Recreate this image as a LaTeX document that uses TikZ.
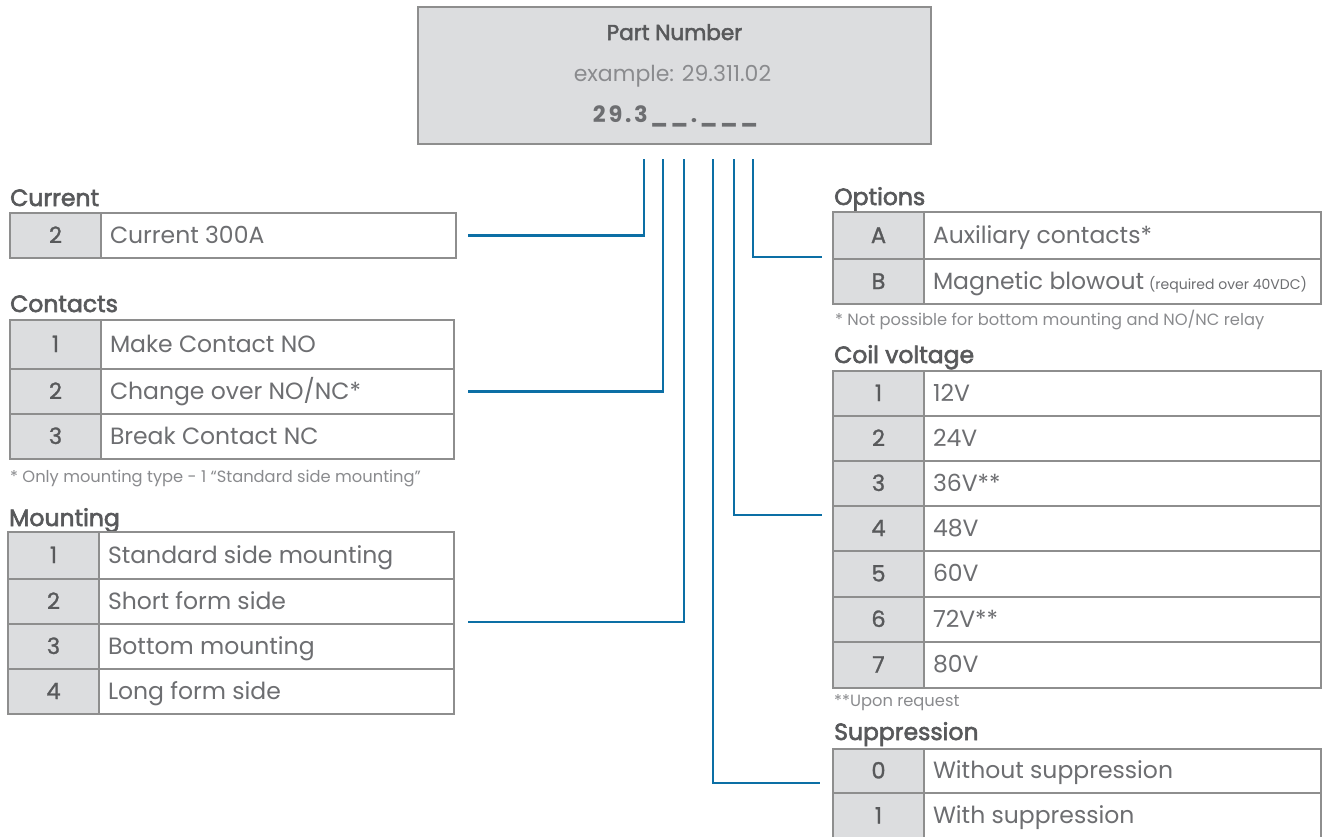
\documentclass[tikz,border=0pt]{standalone}
\usepackage{fontspec}
\setmainfont{Poppins}
\newfontfamily\titlefont[FakeBold=2.5]{Poppins}
\newfontfamily\numfont[FakeBold=1.2]{Poppins}
\newfontfamily\codefont[LetterSpace=12]{Poppins}
\usetikzlibrary{calc}
\definecolor{txtgray}{HTML}{6D6E71}
\definecolor{ttlgray}{HTML}{58595B}
\definecolor{ltgray}{HTML}{8A8B8E}
\definecolor{cellfill}{HTML}{DCDDDF}
\definecolor{bordercol}{HTML}{8E8E8E}
\definecolor{connblue}{HTML}{0C6FA5}
\tikzset{
  cellbase/.style={draw=bordercol, line width=1.6pt, outer sep=0pt, inner sep=0pt, anchor=north west,
    text height=17pt, text depth=2pt, font=\fontsize{23.5}{27}\selectfont, text=txtgray},
  numcell/.style={cellbase, fill=cellfill, align=center, font=\numfont\fontsize{22.5}{27}\selectfont, text=ttlgray},
  txtcell/.style={cellbase, fill=white, inner xsep=9pt},
  ttl/.style={anchor=base west, inner sep=0pt, text=ttlgray, font=\titlefont\fontsize{23.5}{27}\selectfont},
  fnote/.style={anchor=base west, inner sep=0pt, text=ltgray, font=\fontsize{16.3}{19}\selectfont},
  conn/.style={draw=connblue, line width=2.8pt},
  hdrbox/.style={draw=bordercol, line width=1.6pt, fill=cellfill, outer sep=0pt, anchor=north west}
}
% #1 name, #2 x0, #3 xdiv, #4 x1, #5 ytop, #6 ybot, #7 num, #8 text
\newcommand{\trow}[8]{%
  \pgfmathsetmacro\nw{#3-#2}%
  \pgfmathsetmacro\rh{#6-#5}%
  \pgfmathsetmacro\tw{#4-#3-18}%
  \node[numcell, minimum width=\nw pt, minimum height=\rh pt] (#1n) at (#2,#5) {#7};
  \node[txtcell, minimum height=\rh pt] (#1t) at (#3,#5) {\makebox[\tw pt][l]{#8}};
}
\begin{document}
\begin{tikzpicture}[x=1pt,y=-1pt]
\useasboundingbox[fill=white] (0,0) rectangle (1330,836);

% header
\node[hdrbox, minimum width=513pt, minimum height=137pt] (pn) at (418,7) {};
\node[anchor=base, inner sep=0pt, text=ttlgray, font=\titlefont\fontsize{21.5}{25}\selectfont] (pnt) at (674.5,40) {Part Number};
\node[anchor=base, inner sep=0pt, text=ltgray, font=\fontsize{22}{26}\selectfont] (pne) at (672.5,81) {example: 29.311.02};
\node[anchor=base, inner sep=0pt, text=txtgray, font=\codefont\bfseries\fontsize{22.5}{27}\selectfont] (pnc) at (675.5,122) {29.3\_\_.\_\_\_};

% Current
\node[ttl] (curttl) at (10,206) {Current};
\trow{cura}{10}{101}{456}{213}{258}{2}{Current 300A}

% Contacts
\node[ttl] (conttl) at (10,312) {Contacts};
\trow{cona}{10}{101}{454}{320}{369}{1}{Make Contact NO}
\trow{conb}{10}{101}{454}{369}{414}{2}{Change over NO/NC*}
\trow{conc}{10}{101}{454}{414}{459}{3}{Break Contact NC}
\node[fnote] (confn) at (10,482) {* Only mounting type - 1 “Standard side mounting”};

% Mounting
\node[ttl] (mouttl) at (9,526) {Mounting};
\trow{moua}{8}{99}{454}{532}{579}{1}{Standard side mounting}
\trow{moub}{8}{99}{454}{579}{624}{2}{Short form side}
\trow{mouc}{8}{99}{454}{624}{669}{3}{Bottom mounting}
\trow{moud}{8}{99}{454}{669}{714}{4}{Long form side}

% Options
\node[ttl] (optttl) at (834,205) {Options};
\trow{opta}{833}{924}{1321}{212}{259}{A}{Auxiliary contacts*}
\trow{optb}{833}{924}{1321}{259}{304}{B}{Magnetic blowout\hspace{5pt}{\fontsize{14}{16}\selectfont(required over 40VDC)}}
\node[fnote] (optfn) at (835,325) {* Not possible for bottom mounting and NO/NC relay};

% Coil voltage
\node[ttl] (coittl) at (834,363) {Coil voltage};
\trow{coia}{833}{924}{1321}{371}{416}{1}{12V}
\trow{coib}{833}{924}{1321}{416}{461}{2}{24V}
\trow{coic}{833}{924}{1321}{461}{506}{3}{36V**}
\trow{coid}{833}{924}{1321}{506}{551}{4}{48V}
\trow{coie}{833}{924}{1321}{551}{597}{5}{60V}
\trow{coif}{833}{924}{1321}{597}{642}{6}{72V**}
\trow{coig}{833}{924}{1321}{642}{688}{7}{80V}
\node[fnote] (coifn) at (834,706) {**Upon request};

% Suppression
\node[ttl] (supttl) at (834,740) {Suppression};
\trow{supa}{833}{924}{1321}{749}{793}{0}{Without suppression}
\trow{supb}{833}{924}{1321}{793}{839}{1}{With suppression}

% connectors
\coordinate (v1) at (644,159);
\coordinate (v2) at (663,159);
\coordinate (v3) at (684,159);
\coordinate (v4) at (713,159);
\coordinate (v5) at (734,159);
\coordinate (v6) at (753,159);
\coordinate (e5) at (822,515);
\coordinate (e4) at (820,783);
\draw[conn] (v1) |- ($(curat.east)+(12,0)$);
\draw[conn] (v2) |- ($(conbt.east)+(14,0)$);
\draw[conn] (v3) |- ($(moubt.south east)+(14,-2)$);
\draw[conn] (v6) |- ($(optan.south west)+(-11,-2)$);
\draw[conn] (v5) |- (e5);
\draw[conn] (v4) |- (e4);
\end{tikzpicture}
\end{document}
